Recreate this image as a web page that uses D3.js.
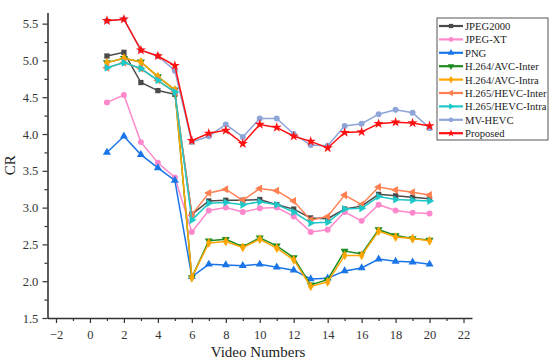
<!DOCTYPE html>
<html>
<head>
<meta charset="utf-8">
<script src="https://cdn.jsdelivr.net/npm/d3@7"></script>
<style>
  body { margin: 0; background: #fff; }
  svg text { font-family: "Liberation Serif", "DejaVu Serif", serif; }
</style>
</head>
<body>
<div id="viz"></div>
<script>
// video numbers 1..20
const videos = [1,2,3,4,5,6,7,8,9,10,11,12,13,14,15,16,17,18,19,20];

const jpeg2000   = [5.06,5.11,4.70,4.59,4.54,2.91,3.09,3.10,3.10,3.11,3.04,2.98,2.86,2.85,2.98,3.02,3.18,3.16,3.14,3.12];
const jpegXT     = [4.43,4.53,3.89,3.61,3.41,2.67,2.96,3.00,2.94,2.99,3.00,2.88,2.67,2.70,2.94,2.82,3.04,2.96,2.93,2.92];
const png        = [3.75,3.97,3.72,3.54,3.37,2.06,2.23,2.22,2.21,2.23,2.19,2.15,2.03,2.04,2.14,2.18,2.30,2.27,2.26,2.23];
const avcInter   = [4.97,5.03,4.98,4.78,4.60,2.05,2.55,2.57,2.47,2.59,2.48,2.32,1.95,2.02,2.41,2.37,2.70,2.62,2.58,2.56];
const avcIntra   = [4.97,5.03,4.98,4.78,4.60,2.05,2.52,2.54,2.46,2.57,2.45,2.29,1.93,1.99,2.35,2.35,2.68,2.60,2.58,2.55];
const hevcInter  = [4.90,4.97,4.89,4.73,4.57,2.90,3.20,3.25,3.10,3.26,3.23,3.09,2.83,2.88,3.17,3.04,3.28,3.24,3.21,3.17];
const hevcIntra  = [4.90,4.97,4.89,4.73,4.57,2.83,3.06,3.07,3.04,3.08,3.04,2.94,2.79,2.80,2.98,2.99,3.15,3.11,3.10,3.09];
const mvHevc     = [5.54,5.56,5.14,5.06,4.86,3.89,3.97,4.13,3.96,4.21,4.21,4.00,3.85,3.84,4.11,4.14,4.27,4.33,4.29,4.08];
const proposed   = [5.54,5.56,5.14,5.06,4.93,3.91,4.01,4.05,3.87,4.13,4.09,3.97,3.90,3.81,4.02,4.03,4.14,4.16,4.15,4.11];

const xTicks = [-2,0,2,4,6,8,10,12,14,16,18,20,22];
const yTicks = [1.5,2.0,2.5,3.0,3.5,4.0,4.5,5.0,5.5];

const series = [
    {name: "JPEG2000",         values: jpeg2000,  color: "#4a4a4a", symbol: d3.symbolSquare},
    {name: "JPEG-XT",          values: jpegXT,    color: "#ff88cc", symbol: d3.symbolCircle},
    {name: "PNG",              values: png,       color: "#1a75e8", symbol: d3.symbolTriangle},
    {name: "H.264/AVC-Inter",  values: avcInter,  color: "#1e8c1e", symbol: d3.symbolTriangle, rotate: 180},
    {name: "H.264/AVC-Intra",  values: avcIntra,  color: "#ffa500", symbol: d3.symbolDiamond},
    {name: "H.265/HEVC-Inter", values: hevcInter, color: "#ff7f50", symbol: d3.symbolTriangle, rotate: -90},
    {name: "H.265/HEVC-Intra", values: hevcIntra, color: "#1ec8c8", symbol: d3.symbolTriangle, rotate: 90},
    {name: "MV-HEVC",          values: mvHevc,    color: "#8ea5d8", symbol: d3.symbolCircle},
    {name: "Proposed",         values: proposed,  color: "#ff1010", symbol: d3.symbolStar}
];

const width = 550, height = 362;
const serif = "Liberation Serif, DejaVu Serif, serif";
const svg = d3.select("#viz").append("svg")
    .attr("width", width)
    .attr("height", height);

const x = d3.scaleLinear().domain([-2.5, 22.5]).range([47.5, 472]);
const y = d3.scaleLinear().domain([1.5, 5.65]).range([318, 12.6]);

// minor ticks
const xMinor = d3.range(-1, 23, 2);
const yMinor = d3.range(1.75, 5.6, 0.5);

const xAxis = svg.append("g")
    .attr("transform", `translate(0,${y(1.5)})`)
    .call(d3.axisBottom(x).tickValues(xTicks).tickSize(5).tickSizeOuter(0).tickFormat(d3.format("d")));
svg.append("g")
    .attr("transform", `translate(0,${y(1.5)})`)
    .call(d3.axisBottom(x).tickValues(xMinor).tickSize(3).tickSizeOuter(0).tickFormat(""))
    .select(".domain").remove();

const yAxis = svg.append("g")
    .attr("transform", `translate(${x(-2.5)},0)`)
    .call(d3.axisLeft(y).tickValues(yTicks).tickSize(5).tickSizeOuter(0).tickFormat(d3.format(".1f")));
svg.append("g")
    .attr("transform", `translate(${x(-2.5)},0)`)
    .call(d3.axisLeft(y).tickValues(yMinor).tickSize(3).tickSizeOuter(0).tickFormat(""))
    .select(".domain").remove();

svg.selectAll(".domain").attr("stroke", "#333").attr("stroke-width", 1.6);
svg.selectAll(".tick line").attr("stroke", "#333").attr("stroke-width", 1.2);
xAxis.selectAll("text").attr("font-family", serif).attr("font-size", 12.5).attr("fill", "#333").attr("dy", "1.05em");
yAxis.selectAll("text").attr("font-family", serif).attr("font-size", 12.5).attr("fill", "#333").attr("dx", "-0.1em");

svg.append("text")
    .attr("transform", `translate(15,${(y(1.5) + y(5.65)) / 2}) rotate(-90)`)
    .attr("text-anchor", "middle")
    .attr("font-family", serif)
    .attr("font-size", 15)
    .attr("fill", "#222")
    .text("CR");

svg.append("text")
    .attr("x", 258)
    .attr("y", 357)
    .attr("text-anchor", "middle")
    .attr("font-family", serif)
    .attr("font-size", 15)
    .attr("fill", "#222")
    .text("Video Numbers");

const line = d3.line()
    .x((d, i) => x(videos[i]))
    .y(d => y(d));

function symbolPath(s, size) {
    return d3.symbol().type(s.symbol).size(size)();
}

series.forEach(s => {
    const g = svg.append("g");
    g.append("path")
        .datum(s.values)
        .attr("d", line)
        .attr("fill", "none")
        .attr("stroke", s.color)
        .attr("stroke-width", 1.5);
    g.selectAll("path.mark")
        .data(s.values)
        .enter().append("path")
        .attr("class", "mark")
        .attr("d", symbolPath(s, s.symbol === d3.symbolStar ? 32 : 28))
        .attr("transform", (d, i) => `translate(${x(videos[i])},${y(d)}) rotate(${s.rotate || 0})`)
        .attr("fill", s.color);
});

// legend
const legend = svg.append("g").attr("transform", "translate(437,18)");
legend.append("rect")
    .attr("width", 111)
    .attr("height", 122)
    .attr("fill", "#fff")
    .attr("stroke", "#555")
    .attr("stroke-width", 1);

series.forEach((s, i) => {
    const row = legend.append("g").attr("transform", `translate(0,${8 + i * 13.4})`);
    row.append("line")
        .attr("x1", 2).attr("x2", 26)
        .attr("stroke", s.color)
        .attr("stroke-width", 2.2);
    row.append("path")
        .attr("d", symbolPath(s, 18))
        .attr("transform", `translate(14,0) rotate(${s.rotate || 0})`)
        .attr("fill", s.color);
    row.append("text")
        .attr("x", 28)
        .attr("y", 4)
        .attr("font-family", serif)
        .attr("font-size", 10.6)
        .attr("fill", "#222")
        .text(s.name);
});
</script>
</body>
</html>
